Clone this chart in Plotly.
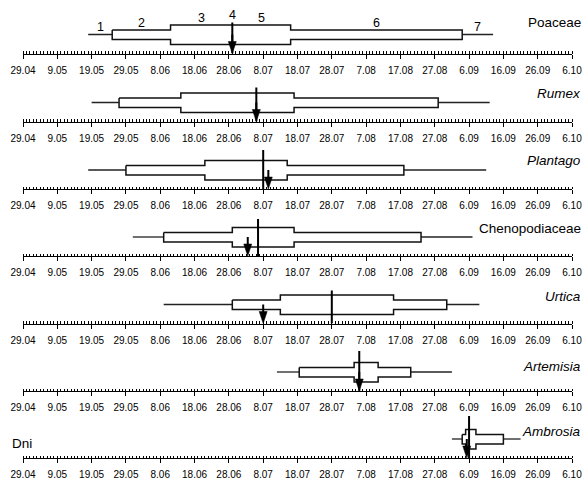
import plotly.graph_objects as go
from datetime import datetime, timedelta

# ---------------- data ----------------
TAXA = ["Poaceae", "Rumex", "Plantago", "Chenopodiaceae", "Urtica", "Artemisia", "Ambrosia"]
ITALIC = [False, True, True, False, True, True, True]

# 1: start of season, 2: start of outer box, 3: start of inner box, 4: median,
# 5: end of inner box, 6: end of outer box, 7: end of season, arrow: marked date
P1_START = ["2000-05-18", "2000-05-19", "2000-05-18", "2000-05-31", "2000-06-09", "2000-07-12", "2000-09-01"]
P2_OUTER = ["2000-05-25", "2000-05-27", "2000-05-29", "2000-06-09", "2000-06-29", "2000-07-18 12:00", "2000-09-04"]
P3_INNER = ["2000-06-11", "2000-06-14", "2000-06-21", "2000-06-29", "2000-07-13", "2000-08-03 12:00", "2000-09-05"]
P4_MEDIAN = ["2000-06-29", "2000-07-06", "2000-07-08", "2000-07-06 12:00", "2000-07-28", "2000-08-05", "2000-09-06"]
P5_INNER = ["2000-07-16", "2000-07-17", "2000-07-15", "2000-07-17", "2000-08-15", "2000-08-10 12:00", "2000-09-08"]
P6_OUTER = ["2000-09-04", "2000-08-28", "2000-08-18", "2000-08-23", "2000-08-30 12:00", "2000-08-20", "2000-09-16"]
P7_END = ["2000-09-13", "2000-09-12", "2000-09-11", "2000-09-07", "2000-09-09", "2000-09-01", "2000-09-21"]
ARROW = ["2000-06-29", "2000-07-06", "2000-07-09 12:00", "2000-07-03 12:00", "2000-07-08", "2000-08-05", "2000-09-05 08:00"]

POINT_LABELS = ["1", "2", "3", "4", "5", "6", "7"]
TICK_LABELS = ["29.04", "9.05", "19.05", "29.05", "8.06", "18.06", "28.06", "8.07", "18.07",
               "28.07", "7.08", "17.08", "27.08", "6.09", "16.09", "26.09", "6.10"]
AXIS_START = "2000-04-29"
AXIS_END = "2000-10-06"
Y_TITLE = "Dni"

# ---------------- layout constants ----------------
W, H = 587, 479
AX_L, AX_R = 23, 572
AXIS_Y = [53.5, 121.5, 189, 256, 323.5, 391, 458]
PANEL_H = 50
WHISK_Y = 19
OUT_B, OUT_T = 14, 23.5
IN_B, IN_T = 9, 28.5
MED_TOP = [31, 34, 39, 37, 33, 40, 42]
LABEL_Y = [31, 28, 28, 28, 27, 25, 27]
HEAD_H = 12
HEAD_HALF = timedelta(hours=28)
FONT = "Arial, Liberation Sans, sans-serif"


def d(s):
    return datetime.fromisoformat(s)


def mid(a, b):
    return a + (b - a) / 2


start = d(AXIS_START)
TICK_VALS = [start + timedelta(days=10 * k) for k in range(len(TICK_LABELS))]

fig = go.Figure()
annotations = []
axes = {}

for i, name in enumerate(TAXA):
    xa = "x" if i == 0 else f"x{i+1}"
    ya = "y" if i == 0 else f"y{i+1}"
    w1, o1, n1, m, n2, o2, w2, a = [d(v[i]) for v in
                                    (P1_START, P2_OUTER, P3_INNER, P4_MEDIAN, P5_INNER, P6_OUTER, P7_END, ARROW)]
    common = dict(xaxis=xa, yaxis=ya, hoverinfo="skip", showlegend=False)
    # whiskers
    fig.add_trace(go.Scatter(x=[w1, o1, None, o2, w2], y=[WHISK_Y, WHISK_Y, None, WHISK_Y, WHISK_Y],
                             mode="lines", line=dict(color="#222", width=1.3), **common))
    # stepped box outline
    fig.add_trace(go.Scatter(
        x=[o1, n1, n1, n2, n2, o2, o2, n2, n2, n1, n1, o1, o1],
        y=[OUT_T, OUT_T, IN_T, IN_T, OUT_T, OUT_T, OUT_B, OUT_B, IN_B, IN_B, OUT_B, OUT_B, OUT_T],
        mode="lines", line=dict(color="#111", width=1.5), **common))
    # median line
    fig.add_trace(go.Scatter(x=[m, m], y=[0, MED_TOP[i]], mode="lines",
                             line=dict(color="black", width=2), **common))
    # arrow
    fig.add_trace(go.Scatter(x=[a, a], y=[HEAD_H - 1, WHISK_Y], mode="lines",
                             line=dict(color="black", width=2), **common))
    fig.add_trace(go.Scatter(x=[a - HEAD_HALF, a + HEAD_HALF, a, a - HEAD_HALF],
                             y=[HEAD_H, HEAD_H, 0, HEAD_H], mode="lines", fill="toself",
                             fillcolor="black", line=dict(color="black", width=0.5), **common))

    label = f"<i>{name}</i>" if ITALIC[i] else name
    annotations.append(dict(text=label, xref="paper", x=583 / W, xanchor="right",
                            yref=ya, y=LABEL_Y[i], yanchor="middle", showarrow=False,
                            font=dict(family=FONT, size=13.5, color="black")))

    if i == 0:
        pos = [mid(w1, o1), mid(o1, n1), mid(n1, m), m, mid(m, n2), mid(n2, o2), mid(o2, w2)]
        hts = [WHISK_Y + 7, OUT_T + 7, IN_T + 7, MED_TOP[i] + 7, IN_T + 7, OUT_T + 7, WHISK_Y + 7]
        for t, px, hy in zip(POINT_LABELS, pos, hts):
            annotations.append(dict(text=t, xref=xa, x=px, yref=ya, y=hy, yanchor="middle",
                                    xanchor="center", showarrow=False,
                                    font=dict(family=FONT, size=12.5, color="black")))

    bottom = (H - AXIS_Y[i]) / H
    top = bottom + PANEL_H / H
    axes["xaxis" if i == 0 else f"xaxis{i+1}"] = dict(
        type="date", domain=[AX_L / W, AX_R / W], range=[AXIS_START, AXIS_END], anchor=ya,
        tickmode="array", tickvals=TICK_VALS, ticktext=TICK_LABELS,
        ticks="outside", ticklen=4, tickwidth=1, tickcolor="black",
        showline=True, linecolor="black", linewidth=1, showgrid=False, zeroline=False,
        minor=dict(dtick=86400000, tick0=AXIS_START, ticks="inside", ticklen=2.5,
                   tickwidth=1, tickcolor="black", showgrid=False),
        tickfont=dict(family=FONT, size=10, color="black"), ticklabelstandoff=3,
        automargin=False, fixedrange=True)
    axes["yaxis" if i == 0 else f"yaxis{i+1}"] = dict(
        domain=[bottom, top], range=[0, PANEL_H], visible=False, anchor=xa, fixedrange=True)

annotations.append(dict(text=Y_TITLE, xref="paper", x=10 / W, xanchor="left",
                        yref="y7", y=15, yanchor="middle", showarrow=False,
                        font=dict(family=FONT, size=13.5, color="black")))

fig.update_layout(width=W, height=H, margin=dict(l=0, r=0, t=0, b=0),
                  paper_bgcolor="white", plot_bgcolor="white",
                  annotations=annotations, showlegend=False, **axes)

fig.write_html("out.html", config={"displayModeBar": False},
               post_script="document.body.style.margin='0';document.body.style.padding='0';"
                           "document.body.style.overflow='hidden';")
